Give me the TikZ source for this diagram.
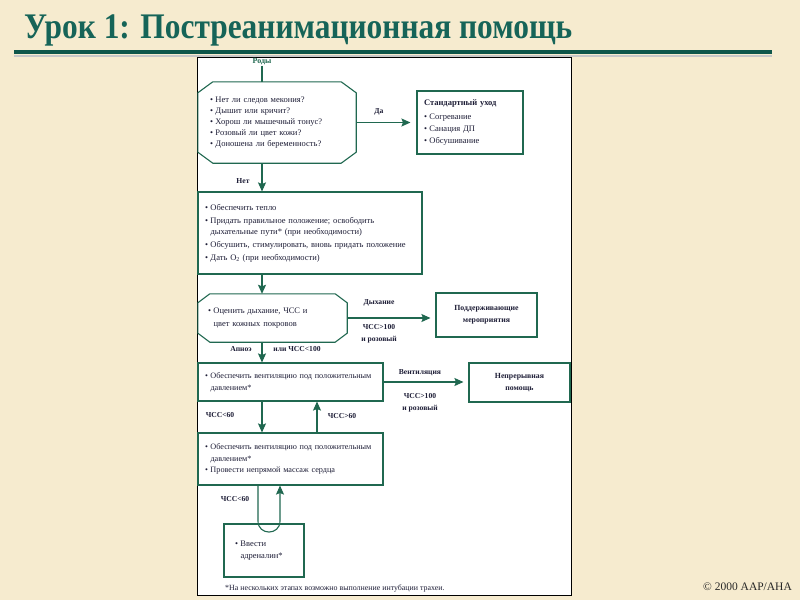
\documentclass[tikz,border=0pt]{standalone}
\usepackage{fontspec}
\setmainfont{Liberation Serif}
\usepackage{graphicx}
\usetikzlibrary{calc,arrows.meta}
\definecolor{bgc}{RGB}{246,235,207}
\definecolor{titc}{RGB}{22,100,88}
\definecolor{rulec}{RGB}{14,86,74}
\definecolor{lcol}{RGB}{32,104,80}
\definecolor{txc}{RGB}{30,30,55}
\newcommand{\mybul}{\makebox[5.5pt][l]{\textbullet}}
\newcommand{\myind}{\hspace*{5.5pt}}
\newcommand{\octa}[3]{\draw[draw=lcol,line width=1.1pt] ($(#1.north west)+(#2,0)$) -- ($(#1.north east)+(-#2,0)$) -- ($(#1.north east)+(0,#3)$) -- ($(#1.south east)+(0,-#3)$) -- ($(#1.south east)+(-#2,0)$) -- ($(#1.south west)+(#2,0)$) -- ($(#1.south west)+(0,-#3)$) -- ($(#1.north west)+(0,#3)$) -- cycle;}
\begin{document}
\begin{tikzpicture}[x=1pt,y=-1pt,
 lc/.style={draw=lcol,line width=1.1pt},
 arr/.style={draw=lcol,line width=1.1pt,-{Stealth[length=9pt,width=8pt,inset=1.5pt]}},
 boxs/.style={draw=lcol,line width=1.1pt,fill=white,inner xsep=7pt,inner ysep=0pt,align=left,text=txc,font=\fontsize{8.5}{11}\selectfont},
 octs/.style={inner ysep=0pt,align=left,text=txc,font=\fontsize{8.5}{11}\selectfont},
 lbl/.style={text=txc,font=\bfseries\fontsize{7.6}{9}\selectfont,inner sep=0pt},
 hbox/.style={boxs,align=center,font=\bfseries\fontsize{7.8}{12}\selectfont}]
\useasboundingbox (0,0) rectangle (800,600);
\fill[bgc] (0,0) rectangle (800,600);
\node[anchor=base west,inner sep=0pt,text=titc,font=\bfseries\fontsize{36}{40}\selectfont] (title) at (24,38) {\resizebox{548pt}{\height}{Урок 1: Постреанимационная помощь}};
\draw[line width=2pt, black!22] (14,55.5) -- (772,55.5);
\draw[line width=3.5pt, rulec] (14,52) -- (772,52);
\draw[black, line width=0.8pt, fill=white] (197,57) rectangle (571,595);
\coordinate (colA) at (262,0);
\coordinate (colB) at (317,0);
\node[lbl, text=lcol, font=\bfseries\fontsize{8}{9}\selectfont] (rody) at (262,62) {Роды};
\node[octs, inner xsep=12pt, text width=134pt, minimum height=81pt] (q1) at (277,122.5) {\mybul Нет ли следов мекония?\\ \mybul Дышит или кричит?\\ \mybul Хорош ли мышечный тонус?\\ \mybul Розовый ли цвет кожи?\\ \mybul Доношена ли беременность?};
\octa{q1}{15}{11}
\node[boxs, text width=92pt, minimum height=63pt, font=\fontsize{8.5}{12}\selectfont] (std) at (470,122.5) {\textbf{Стандартный уход}\\[2pt] \mybul Согревание\\ \mybul Санация ДП\\ \mybul Обсушивание};
\node[boxs, text width=210pt, minimum height=82pt] (b2) at (310,233) {\mybul Обеспечить тепло\\[2pt] \mybul Придать правильное положение; освободить\\ \myind дыхательные пути* (при необходимости)\\[2pt] \mybul Обсушить, стимулировать, вновь придать положение\\[2pt] \mybul Дать O\textsubscript{2} (при необходимости)};
\node[octs, inner xsep=10pt, text width=129pt, minimum height=48pt] (q2) at (272.5,318) {\mybul Оценить дыхание, ЧСС и\\[2pt] \myind цвет кожных покровов};
\octa{q2}{12}{9}
\node[hbox, text width=87pt, minimum height=44pt] (sup) at (486.5,315) {Поддерживающие\\мероприятия};
\node[boxs, text width=171pt, minimum height=38pt, font=\fontsize{8.2}{11}\selectfont] (b3) at (290.5,382) {\mybul Обеспечить вентиляцию под положительным\\[1pt] \myind давлением*};
\node[hbox, text width=87pt, minimum height=39pt] (cont) at (519.5,382.5) {Непрерывная\\помощь};
\node[boxs, text width=171pt, minimum height=52pt, font=\fontsize{8.2}{11}\selectfont] (b4) at (290.5,459) {\mybul Обеспечить вентиляцию под положительным\\[1pt] \myind давлением*\\[0.5pt] \mybul Провести непрямой массаж сердца};
\node[boxs, inner xsep=11pt, text width=58pt, minimum height=53pt, font=\fontsize{8.5}{12}\selectfont] (adr) at (264,550.5) {\mybul Ввести\\ \myind адреналин*};
% connectors
\draw[lc] (rody.south) -- (rody.south |- q1.north);
\draw[arr] (colA |- q1.south) -- (colA |- b2.north);
\draw[arr,shorten >=6pt] (q1.east) -- (std.west);
\draw[arr] (colA |- b2.south) -- (colA |- q2.north);
\draw[arr,shorten >=5pt] (q2.east) -- (q2.east -| sup.west);
\draw[arr] (colA |- q2.south) -- (colA |- b3.north);
\draw[arr,shorten >=5pt] (b3.east) -- (b3.east -| cont.west);
\draw[arr] (colA |- b3.south) -- (colA |- b4.north);
\draw[arr] (colB |- b4.north) -- (colB |- b3.south);
\coordinate (loopL) at (258,521);
\coordinate (loopR) at (280,521);
\draw[arr] (loopL |- b4.south) -- (loopL) .. controls +(0,14.7) and +(0,14.7) .. (loopR) -- (loopR |- b4.south);
% labels
\node[lbl] (lda) at (379,112) {Да};
\node[lbl] (lnet) at (243,181) {Нет};
\node[lbl] (ldyh) at (379,303) {Дыхание};
\node[lbl] (lhr1) at (379,327) {ЧСС>100};
\node[lbl] (lpink1) at (379,340) {и розовый};
\node[lbl] (lapn) at (241,349) {Апноэ};
\node[lbl] (lhr2) at (297,349) {или ЧСС<100};
\node[lbl] (lvent) at (420,373) {Вентиляция};
\node[lbl] (lhr3) at (420,396) {ЧСС>100};
\node[lbl] (lpink2) at (420,409) {и розовый};
\node[lbl] (lhr4) at (220,415) {ЧСС<60};
\node[lbl] (lhr5) at (342,416) {ЧСС>60};
\node[lbl] (lhr6) at (235,499) {ЧСС<60};
\node[anchor=west,inner sep=0pt,text=txc,font=\fontsize{7.9}{9}\selectfont] (foot) at (225,589) {*На нескольких этапах возможно выполнение интубации трахеи.};
\node[anchor=east,inner sep=0pt,text=black!85,font=\fontsize{11.5}{13}\selectfont] (copy) at (792,587) {© 2000 AAP/AHA};
\end{tikzpicture}
\end{document}
